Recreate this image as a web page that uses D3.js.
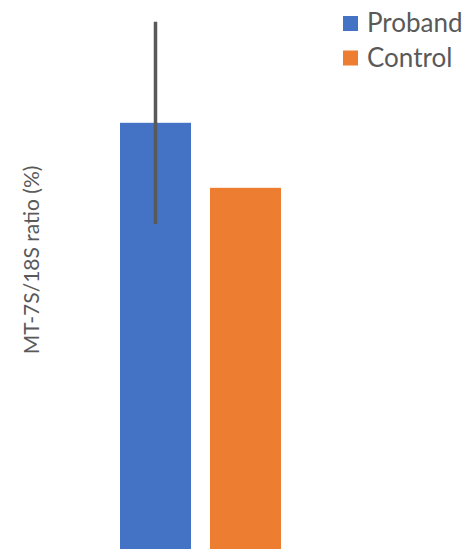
<!DOCTYPE html>
<html>
<head>
<meta charset="utf-8">
<script src="https://cdn.jsdelivr.net/npm/d3@7"></script>
<style>
  html, body { margin: 0; padding: 0; background: #fff; }
  svg { display: block; }
</style>
</head>
<body>
<svg id="graph" width="465" height="549"></svg>
<script>
// Series names and values (single group, two series)
var seriesNames = ["Proband", "Control"];
var seriesValues = [118, 100];
var errorValues = [28, 0];
var colors = ["#4472C4", "#ED7D31"];
var yLabel = "MT-7S/18S ratio (%)";

var svg = d3.select("#graph"),
    width = +svg.attr("width"),
    height = +svg.attr("height");

// Scales
var xScale = d3.scaleBand().domain(seriesNames).range([120, 281]).paddingInner(0.211).paddingOuter(0);
var yScale = d3.scaleLinear().domain([0, 152]).range([height, 0]);

// Bars
svg.selectAll("rect.bar").data(seriesNames).enter().append("rect")
    .attr("class", "bar")
    .attr("x", d => xScale(d))
    .attr("width", xScale.bandwidth())
    .attr("y", (d, i) => yScale(seriesValues[i]))
    .attr("height", (d, i) => yScale(0) - yScale(seriesValues[i]))
    .attr("fill", (d, i) => colors[i]);

// Error bars (only where nonzero)
svg.selectAll("line.err").data(seriesNames.filter((d, i) => errorValues[i] > 0)).enter().append("line")
    .attr("class", "err")
    .attr("x1", d => xScale(d) + xScale.bandwidth() / 2)
    .attr("x2", d => xScale(d) + xScale.bandwidth() / 2)
    .attr("y1", d => { var i = seriesNames.indexOf(d); return yScale(seriesValues[i] + errorValues[i]); })
    .attr("y2", d => { var i = seriesNames.indexOf(d); return yScale(seriesValues[i] - errorValues[i]); })
    .attr("stroke", "#595959")
    .attr("stroke-width", 3.5);

// Y axis title
svg.append("text")
    .attr("transform", "translate(38.5,260) rotate(-90)")
    .attr("text-anchor", "middle")
    .attr("font-family", "Lato, 'Liberation Sans', sans-serif")
    .attr("font-size", 21)
    .attr("fill", "#595959")
    .text(yLabel);

// Legend
var legend = svg.selectAll("g.legend").data(seriesNames).enter().append("g")
    .attr("class", "legend")
    .attr("transform", (d, i) => "translate(343," + (16 + i * 34.5) + ")");
legend.append("rect")
    .attr("width", 15).attr("height", 15)
    .attr("fill", (d, i) => colors[i]);
legend.append("text")
    .attr("x", 24).attr("y", 16)
    .attr("font-family", "Lato, 'Liberation Sans', sans-serif")
    .attr("font-size", 26)
    .attr("fill", "#595959")
    .text(d => d);
</script>
</body>
</html>
